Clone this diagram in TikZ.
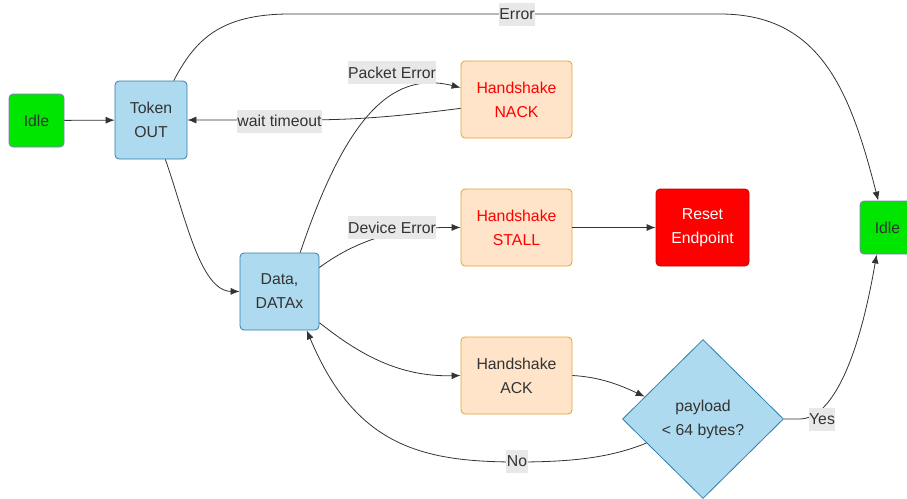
\documentclass[tikz,border=0pt]{standalone}
\usepackage{fontspec}
\setmainfont{Liberation Sans}
\usetikzlibrary{arrows.meta,shapes.geometric}
\definecolor{ink}{HTML}{333333}
\definecolor{idlefill}{HTML}{00E600}
\definecolor{idledraw}{HTML}{9370DB}
\definecolor{bluefill}{HTML}{ADDAEE}
\definecolor{bluedraw}{HTML}{2E7FAE}
\definecolor{hsfill}{HTML}{FFE4CA}
\definecolor{hsdraw}{HTML}{E3A32E}
\definecolor{resetdraw}{HTML}{C80000}
\definecolor{lblbg}{HTML}{E8E8E8}
\tikzset{
  base/.style={rounded corners=4pt, line width=0.8pt, inner sep=0pt, align=center,
    font=\fontsize{15.8}{24}\selectfont, text=ink},
  idlebox/.style={base, fill=idlefill, draw=idledraw, minimum width=55pt, minimum height=53pt},
  bluebox/.style={base, fill=bluefill, draw=bluedraw},
  hsbox/.style={base, fill=hsfill, draw=hsdraw, minimum width=111pt, minimum height=77pt},
  resetbox/.style={base, fill=red, draw=resetdraw, text=white, minimum width=93pt, minimum height=77pt},
  decision/.style={diamond, fill=bluefill, draw=bluedraw, line width=0.8pt, inner sep=0pt,
    minimum width=161pt, minimum height=159pt, align=center,
    font=\fontsize{15.8}{24}\selectfont, text=ink},
  lbl/.style={fill=lblbg, inner xsep=0.5pt, inner ysep=0pt, minimum height=23pt,
    font=\fontsize{15.8}{19}\selectfont, text=ink},
  edge/.style={draw=ink, line width=0.8pt, -{Latex[length=9pt,width=7pt]}}
}
\begin{document}
\begin{tikzpicture}[x=1pt,y=-1pt]
\useasboundingbox (0,0) rectangle (907,498);
% nodes
\node[idlebox] (idle1) at (36.5,120.5) {Idle};
\node[bluebox, minimum width=72pt, minimum height=78pt] (tok) at (151,120) {Token\\OUT};
\node[bluebox, minimum width=79pt, minimum height=77pt] (data) at (279.5,291.5) {Data,\\DATAx};
\node[hsbox, text=red] (nack) at (516.5,99.5) {Handshake\\NACK};
\node[hsbox, text=red] (stall) at (516.5,227.5) {Handshake\\STALL};
\node[resetbox] (reset) at (702.5,227.5) {Reset\\Endpoint};
\node[idlebox] (idle2) at (887.5,227.5) {Idle};
\node[hsbox] (ack) at (516.5,375.5) {Handshake\\ACK};
\node[decision] (dia) at (703,419) {payload\\< 64 bytes?};
% edges
\draw[edge] (idle1) -- (tok);
\draw[edge] (tok.60) .. controls (195,40) and (220,14) .. (290,14) -- (720,14)
  .. controls (820,14) and (850,90) .. (idle2.109);
\draw[edge] (nack.189) .. controls (400,116) and (360,120) .. (300,120) -- (tok.east);
\draw[edge] (data.62) .. controls (345,120) and (390,70) .. (nack.168);
\draw[edge] (data.31) .. controls (350,245) and (390,227) .. (stall.west);
\draw[edge] (stall) -- (reset);
\draw[edge] (tok.-70) .. controls (185,215) and (200,291) .. (data.west);
\draw[edge] (data.-38) .. controls (360,355) and (400,377) .. (ack.west);
\draw[edge] (ack.east) .. controls (600,377) and (620,385) .. (dia.159);
\draw[edge] (dia.east) -- (800,419) .. controls (825,419) and (855,380) .. (idle2.248);
\draw[edge] (dia.203) .. controls (610,458) and (570,462) .. (517,462)
  .. controls (420,462) and (355,445) .. (data.-55);
% labels
\node[lbl] (lerr) at (517,14.5) {Error};
\node[lbl] (lwait) at (279.5,121) {wait timeout};
\node[lbl] (lpkt) at (392,72.5) {Packet Error};
\node[lbl] (ldev) at (392,227.5) {Device Error};
\node[lbl] (lyes) at (822,419) {Yes};
\node[lbl] (lno) at (517,461.5) {No};
\end{tikzpicture}
\end{document}
